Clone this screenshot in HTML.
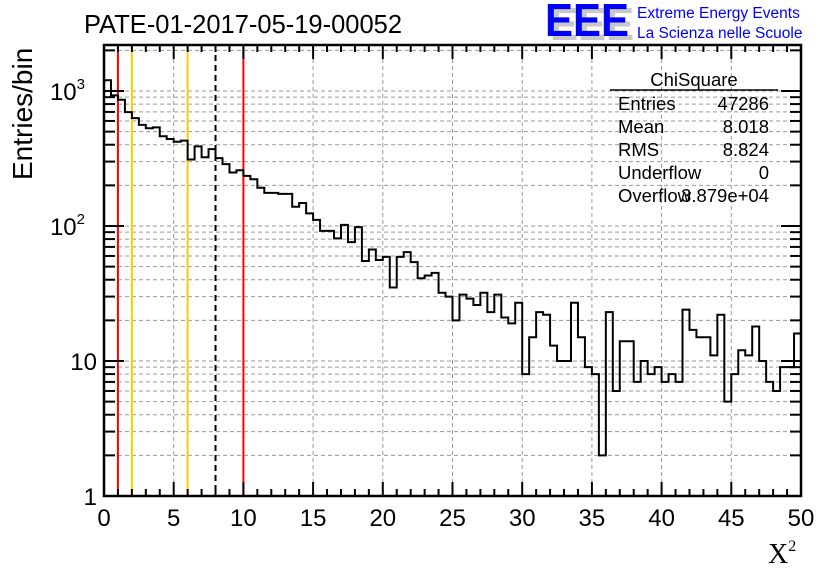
<!DOCTYPE html>
<html><head><meta charset="utf-8"><style>
html,body{margin:0;padding:0;background:#fff;}
svg{display:block;font-family:"Liberation Sans",sans-serif;}
</style></head><body>
<svg id="c" width="836" height="572" viewBox="0 0 836 572" xmlns="http://www.w3.org/2000/svg">
<rect width="836" height="572" fill="#fff"/>
<text x="84" y="33" font-size="25.5">PATE-01-2017-05-19-00052</text>
<g font-weight="bold" font-size="46">
<text x="550" y="40" fill="#c8c8c8" textLength="84" lengthAdjust="spacingAndGlyphs">EEE</text>
<text x="545" y="36" fill="#0000ff" textLength="84" lengthAdjust="spacingAndGlyphs">EEE</text>
</g>
<text x="637" y="18" font-size="15.5" fill="#0000ff">Extreme Energy Events</text>
<text x="637" y="38" font-size="15.5" fill="#0000ff">La Scienza nelle Scuole</text>
<text transform="translate(32,180) rotate(-90)" font-size="28">Entries/bin</text>
<text x="768" y="563" font-family="Liberation Serif,serif" font-size="28">X<tspan font-size="16" dy="-12">2</tspan></text>
<g id="grid"></g>
<g id="lines"></g>
<path id="hist" fill="none" stroke="#000" stroke-width="2"/>
<g id="axes"></g>
<g font-size="18.5">
<text x="694" y="86" text-anchor="middle">ChiSquare</text>
<line x1="610" y1="90" x2="778" y2="90" stroke="#000" stroke-width="1.5"/>
<text x="618" y="110">Entries</text><text x="769" y="110" text-anchor="end">47286</text>
<text x="618" y="133">Mean</text><text x="769" y="133" text-anchor="end">8.018</text>
<text x="618" y="156">RMS</text><text x="769" y="156" text-anchor="end">8.824</text>
<text x="618" y="179">Underflow</text><text x="769" y="179" text-anchor="end">0</text>
<text x="618" y="202">Overflow</text><text x="769" y="202" text-anchor="end">3.879e+04</text>
</g>
</svg>
<script>
const counts=[1202,929,861,697,629,561,530,538,462,441,421,429,311,389,323,371,318,287,249,259,
235,222,192,176,176,173,173,139,148,124,111,92,92,81,102,76,98,55,67,56,
59,35,59,64,54,41,43,45,32,30,20,31,29,26,32,23,31,21,19,27,
8,15,23,22,13,10,10,27,15,9,8,2,23,6,14,14,7,10,8,9,
7,8,7,24,17,15,15,11,22,5,8,12,11,18,10,7,6,9,9,16];
const binWidth=0.5;
const xTicks=[0,5,10,15,20,25,30,35,40,45,50];
const yDecades=[1,10,100,1000];
const refRed=[1,10];
const refYellow=[2,6];
const refMean=[8];
const X0=104,X1=801,Y0=496,YT=45,DEC=135;
const xs=v=>X0+(v/50)*(X1-X0);
const ys=v=>Y0-Math.log10(v)*DEC;
const NS="http://www.w3.org/2000/svg";
function mk(par,tag,at){const e=document.createElementNS(NS,tag);for(const k in at)e.setAttribute(k,at[k]);par.appendChild(e);return e;}
const grid=document.getElementById('grid'),axes=document.getElementById('axes'),lines=document.getElementById('lines');
for(const t of xTicks){if(t===0||t===50)continue;const l=mk(grid,'line',{x1:xs(t),x2:xs(t),y1:YT,y2:Y0,stroke:'#999','stroke-width':1,'stroke-dasharray':'4,3'});

}
for(const d of yDecades){for(let m=1;m<10;m++){const v=d*m;const y=ys(v);if(y<YT||v===1)continue;const l=mk(grid,'line',{x1:X0,x2:X1,y1:y,y2:y,stroke:'#999','stroke-width':1,'stroke-dasharray':'4,3'});

}}
function vline(v,col,dash,name){const l=mk(lines,'line',{x1:xs(v),x2:xs(v),y1:YT,y2:Y0,stroke:col,'stroke-width':2});if(dash)l.setAttribute('stroke-dasharray',dash);

}
refRed.forEach(v=>vline(v,'#ff0000',null,'red-limit-line'));
refYellow.forEach(v=>vline(v,'#ffcc00',null,'yellow-limit-line'));
refMean.forEach(v=>vline(v,'#000',"6,4",'mean-line'));
let d='M'+xs(0)+' '+Y0;
counts.forEach((c,i)=>{const y=ys(Math.max(c,1));d+=' L'+xs(i*binWidth)+' '+y+' L'+xs((i+1)*binWidth)+' '+y;});
document.getElementById('hist').setAttribute('d',d);
const fr=mk(axes,'rect',{x:X0,y:YT,width:X1-X0,height:Y0-YT,fill:'none',stroke:'#000','stroke-width':2.5});


for(let t=0;t<=50;t++){const len=t%5===0?14:7;const x=xs(t);
mk(axes,'line',{x1:x,x2:x,y1:Y0,y2:Y0-len,stroke:'#000','stroke-width':2});
mk(axes,'line',{x1:x,x2:x,y1:YT,y2:YT+len,stroke:'#000','stroke-width':2});}
xTicks.forEach(t=>{const tx=mk(axes,'text',{x:xs(t),y:526,'font-size':24,'text-anchor':'middle'});tx.textContent=t;

});
for(const dd of yDecades){for(let m=1;m<10;m++){const v=dd*m;const y=ys(v);if(y<YT)continue;const len=m===1?20:11;
mk(axes,'line',{x1:X0,x2:X0+len,y1:y,y2:y,stroke:'#000','stroke-width':2});
mk(axes,'line',{x1:X1,x2:X1-len,y1:y,y2:y,stroke:'#000','stroke-width':2});}}
const ylab=[["1",""],["10",""],["10","2"],["10","3"]];
yDecades.forEach((v,i)=>{const tx=mk(axes,'text',{x:97,y:ys(v)+9,'font-size':24,'text-anchor':'end'});


if(ylab[i][1]){tx.setAttribute('x',85);tx.textContent=ylab[i][0];const s=mk(tx,'tspan',{'font-size':15,dy:-11});s.textContent=ylab[i][1];}else tx.textContent=ylab[i][0];});
</script>
</body></html>
